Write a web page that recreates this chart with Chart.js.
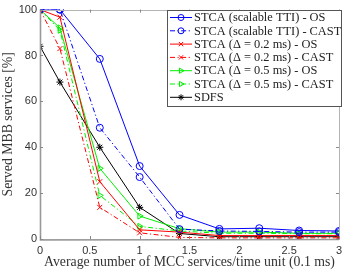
<!DOCTYPE html>
<html><head><meta charset="utf-8">
<script src="https://cdn.jsdelivr.net/npm/chart.js@4/dist/chart.umd.min.js"></script>
<style>html,body{margin:0;padding:0;background:#fff}#w{width:347px;height:274px}</style>
</head><body><div id="w"><canvas id="c"></canvas></div>
<script>
const xValues = [0, 0.2, 0.6, 1.0, 1.4, 1.8, 2.2, 2.6, 3.0];
const stcaScalableOS   = [100, 100, 78.5, 31.8, 10.5, 4.4, 4.7, 3.7, 3.5];
const stcaScalableCAST = [100, 100, 48.5, 27.0, 4.3, 3.5, 3.3, 3.0, 3.0];
const stca02OS         = [100, 96.7, 25.0, 4.0, 3.0, 1.5, 1.5, 1.5, 1.5];
const stca02CAST       = [100, 83.0, 13.8, 2.7, 0.7, 0.5, 0.5, 0.5, 0.5];
const stca05OS         = [100, 92.0, 30.8, 10.0, 4.5, 3.0, 3.0, 2.5, 2.5];
const stca05CAST       = [100, 91.0, 19.0, 5.5, 3.5, 2.5, 2.5, 2.3, 2.3];
const sdfs             = [84, 68.4, 40.0, 13.8, 2.4, 1.0, 1.0, 1.0, 1.0];
const seriesNames = ['STCA (scalable TTI) - OS','STCA (scalable TTI) - CAST','STCA (\u0394 = 0.2 ms) - OS','STCA (\u0394 = 0.2 ms) - CAST','STCA (\u0394 = 0.5 ms) - OS','STCA (\u0394 = 0.5 ms) - CAST','SDFS'];
const xTicks = [0, 0.5, 1, 1.5, 2, 2.5, 3];
const yTicks = [0, 20, 40, 60, 80, 100];

const dd = [5,2.5,1.2,2.5];
function ds(label, data, color, style, dash, rot) {
  return {label, data: data.map((v,i)=>({x:xValues[i], y:v})), borderColor: color, backgroundColor:'rgba(0,0,0,0)',
    pointBorderColor: color, pointBackgroundColor: 'rgba(0,0,0,0)', borderWidth: 1, pointBorderWidth: 1,
    pointStyle: style, pointRadius: 3.5, pointRotation: rot||0, borderDash: dash||[], tension: 0};
}
const datasets = [
  ds(seriesNames[0], stcaScalableOS, '#0000ff', 'circle'),
  ds(seriesNames[1], stcaScalableCAST, '#0000ff', 'circle', dd),
  ds(seriesNames[2], stca02OS, '#ff0000', 'crossRot'),
  ds(seriesNames[3], stca02CAST, '#ff0000', 'crossRot', dd),
  ds(seriesNames[4], stca05OS, '#00f000', 'triangle', null, 90),
  ds(seriesNames[5], stca05CAST, '#00f000', 'triangle', dd, 90),
  ds(seriesNames[6], sdfs, '#000000', 'star'),
];

const framePlugin = {
  id: 'frame',
  afterDraw(chart) {
    const {ctx, chartArea: a, scales} = chart;
    ctx.save();
    ctx.strokeStyle = '#b4b4b4'; ctx.lineWidth = 1;
    ctx.strokeRect(Math.round(a.left)+0.5, Math.round(a.top)+0.5, Math.round(a.right-a.left), Math.round(a.bottom-a.top));
    ctx.strokeStyle = '#999'; ctx.lineWidth = 1.6;
    ctx.beginPath();
    ctx.moveTo(Math.round(a.left)+0.5, a.top); ctx.lineTo(Math.round(a.left)+0.5, a.bottom+1);
    ctx.lineTo(a.right, Math.round(a.bottom)+0.5);
    ctx.stroke();
    ctx.strokeStyle = '#888'; ctx.lineWidth = 1;
    ctx.beginPath();
    xTicks.forEach(t => { const px = Math.round(scales.x.getPixelForValue(t))+0.5;
      ctx.moveTo(px, a.bottom); ctx.lineTo(px, a.bottom-3); ctx.moveTo(px, a.top); ctx.lineTo(px, a.top+3); });
    yTicks.forEach(t => { const py = Math.round(scales.y.getPixelForValue(t))+0.5;
      ctx.moveTo(a.left, py); ctx.lineTo(a.left+3, py); ctx.moveTo(a.right, py); ctx.lineTo(a.right-3, py); });
    ctx.stroke();
    // legend
    const lx = 167, ly = 10, lw = 174, lh = 96, rowH = 13.3;
    ctx.fillStyle = '#fff'; ctx.fillRect(lx, ly, lw, lh);
    ctx.strokeStyle = '#555'; ctx.lineWidth = 1; ctx.strokeRect(lx+0.5, ly+0.5, lw, lh);
    ctx.font = '12.4px "Liberation Serif", serif'; ctx.textBaseline = 'middle';
    chart.data.datasets.forEach((d, i) => {
      const y = ly + 7.5 + i*rowH;
      ctx.strokeStyle = d.borderColor; ctx.lineWidth = 1; ctx.setLineDash(d.borderDash);
      ctx.beginPath(); ctx.moveTo(lx+3, y); ctx.lineTo(lx+25, y); ctx.stroke(); ctx.setLineDash([]);
      ctx.fillStyle = 'rgba(0,0,0,0)'; ctx.strokeStyle = d.borderColor;
      Chart.helpers.drawPoint(ctx, {pointStyle: d.pointStyle, radius: 3, rotation: d.pointRotation, borderWidth: 1}, lx+14, y);
      ctx.fillStyle = '#222';
      ctx.fillText(d.label, lx+27, y+0.5);
    });
    ctx.restore();
  }
};

new Chart(document.getElementById('c'), {
  type: 'line',
  data: { datasets },
  options: {
    responsive: true, maintainAspectRatio: false, animation: false,
    layout: { padding: { top: 4, right: 5, left: 0, bottom: 0 } },
    plugins: { legend: { display: false }, tooltip: { enabled: false } },
    scales: {
      x: { type: 'linear', min: 0, max: 3, afterFit(s){ s.height = 35; },
        afterBuildTicks(s){ s.ticks = xTicks.map(v=>({value:v})); },
        grid: { display: false, drawTicks: false }, border: { display: false },
        ticks: { color: '#333', font: { family: 'Liberation Sans, Arial', size: 11 }, padding: 5, maxRotation: 0,
          callback: v => String(v) },
        title: { display: true, text: 'Average number of MCC services/time unit (0.1 ms)', color: '#333',
          font: { family: 'Liberation Serif, serif', size: 13.8 }, padding: { top: 0, bottom: 3 } } },
      y: { type: 'linear', min: 0, max: 100, afterFit(s){ s.width = 40; },
        afterBuildTicks(s){ s.ticks = yTicks.map(v=>({value:v})); },
        grid: { display: false, drawTicks: false }, border: { display: false },
        ticks: { color: '#333', font: { family: 'Liberation Sans, Arial', size: 11 }, padding: 3 },
        title: { display: true, text: 'Served MBB services [%]', color: '#333',
          font: { family: 'Liberation Serif, serif', size: 13.8 }, padding: { top: 0, bottom: 0 } } }
    }
  },
  plugins: [framePlugin]
});
</script></body></html>
